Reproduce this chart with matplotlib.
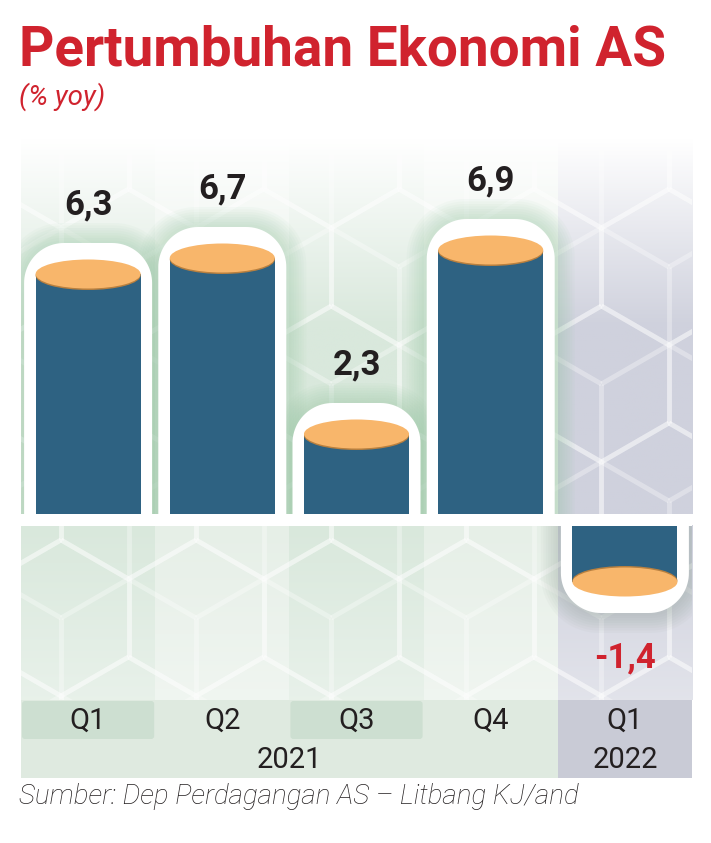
import numpy as np
import matplotlib
matplotlib.use('Agg')
import matplotlib.pyplot as plt
from matplotlib.patches import Rectangle, Ellipse, Polygon, FancyBboxPatch
from matplotlib.collections import LineCollection
from matplotlib.colors import to_rgb

# ---------------- data ----------------
quarters = ['Q1', 'Q2', 'Q3', 'Q4', 'Q1']
years = ['2021', '2022']
year_span = [4, 1]
values = [6.3, 6.7, 2.3, 6.9, -1.4]
value_labels = ['6,3', '6,7', '2,3', '6,9', '-1,4']
title = 'Pertumbuhan Ekonomi AS'
subtitle = '(% yoy)'
source = 'Sumber: Dep Perdagangan AS \u2013 Litbang KJ/and'

# ---------------- styles ----------------
RED = '#d0232e'
BLUE = '#2e6282'
ORANGE = '#f8b66b'
ORANGE_DK = '#b9803f'
TXT = '#231f20'
COL_DARK = '#d9e8dc'
COL_LIGHT = '#e6efe7'
COL_GREY = '#cfd1dd'
CELL_DARK = '#cddfd1'
CELL_LIGHT = '#dfeae0'
CELL_GREY = '#c9cbd6'

W, H = 711, 843
fig = plt.figure(figsize=(W / 100, H / 100), dpi=100)
fig.patch.set_facecolor('white')

bg = fig.add_axes([0, 0, 1, 1])
bg.set_xlim(0, W)
bg.set_ylim(H, 0)
bg.axis('off')

L, R = 21, 692
colw = (R - L) / 5
edges = [L + i * colw for i in range(6)]
UP_TOP, UP_BOT = 138, 514
LO_TOP, LO_BOT = 525, 700


def col_color(i):
    if i == 4:
        return COL_GREY
    return COL_DARK if i % 2 == 0 else COL_LIGHT


def grad(color, a0, a1, n=200, mid=None):
    c = np.array(to_rgb(color))
    t = np.linspace(0, 1, n)
    if mid is not None:
        a = np.clip(a0 + (a1 - a0) * t / mid, min(a0, a1), max(a0, a1))
    else:
        a = a0 + (a1 - a0) * t
    rgb = (1 - a)[:, None] * 1.0 + a[:, None] * c[None, :]
    return rgb[:, None, :]


for i in range(5):
    bg.imshow(grad(col_color(i), 0.0, 1.0, mid=0.5), extent=(edges[i], edges[i + 1], UP_BOT, UP_TOP),
              aspect='auto', interpolation='bilinear', zorder=0)
    bg.imshow(grad(col_color(i), 1.0, 0.6), extent=(edges[i], edges[i + 1], LO_BOT, LO_TOP),
              aspect='auto', interpolation='bilinear', zorder=0)

# hexagonal cube pattern (decorative)
Rh = 78
segs = []
dx = np.sqrt(3) * Rh
dy = 1.5 * Rh
for row in range(-1, 10):
    cy = 150 + row * dy
    off = (dx / 2) if row % 2 else 0
    for col in range(-1, 7):
        cx = L + 40 + col * dx + off
        pts = []
        for k in range(6):
            a = np.deg2rad(90 + 60 * k)
            pts.append((cx + Rh * np.cos(a), cy - Rh * np.sin(a)))
        for k in range(6):
            segs.append([pts[k], pts[(k + 1) % 6]])
        for ang in (150, 30, -90):
            a = np.deg2rad(ang)
            segs.append([(cx, cy), (cx + Rh * np.cos(a), cy - Rh * np.sin(a))])
for (t, b) in ((UP_TOP, UP_BOT), (LO_TOP, LO_BOT)):
    lc = LineCollection(segs, colors='white', linewidths=3.5, alpha=0.32, zorder=1)
    bg.add_collection(lc)
    clip = Rectangle((L, t), R - L, b - t, transform=bg.transData, visible=False)
    bg.add_patch(clip)
    lc.set_clip_path(clip)

# label cells
bg.add_patch(Rectangle((edges[0], 700), edges[4] - edges[0], 78, color=CELL_LIGHT, zorder=2, lw=0))
bg.add_patch(Rectangle((edges[4], 700), edges[5] - edges[4], 78, color=CELL_GREY, zorder=2, lw=0))
for i in (0, 2):
    bg.add_patch(FancyBboxPatch((edges[i] + 1, 701), colw - 2, 38, boxstyle='round,pad=0,rounding_size=3',
                                color=CELL_DARK, zorder=3, lw=0))

for i, q in enumerate(quarters):
    bg.text((edges[i] + edges[i + 1]) / 2, 721, q, ha='center', va='center', fontsize=21,
            family='Roboto', weight='normal', color=TXT, zorder=5)
start = 0
for y, n in zip(years, year_span):
    bg.text((edges[start] + edges[start + n]) / 2, 760, y, ha='center', va='center', fontsize=21,
            family='Roboto', weight='normal', color=TXT, zorder=5)
    start += n

# titles
fig.text(19 / W, 1 - 66 / H, title, ha='left', va='baseline', fontsize=39.5, family='Roboto',
         weight='bold', color=RED)
fig.text(19 / W, 1 - 105 / H, subtitle, ha='left', va='baseline', fontsize=20, family='Roboto',
         weight='normal', style='italic', color=RED)
fig.text(19 / W, 1 - 804 / H, source, ha='left', va='baseline', fontsize=20, family='Roboto',
         weight='light', style='italic', color=TXT)

# ---------------- bars ----------------
zero_px, kpx = 526, 40.0
top_px, bot_px = 138, 700
ax = fig.add_axes([L / W, (H - bot_px) / H, (R - L) / W, (bot_px - top_px) / H])
ax.set_xlim(-0.5, 4.5)
ax.set_ylim(-(bot_px - zero_px) / kpx, (zero_px - top_px) / kpx)
ax.axis('off')
ax.patch.set_alpha(0)
ux, uy = colw, kpx

bw_px = 105
bw = bw_px / ux
ell_h = 29 / uy


def frame(xc, v, half_w_px, ext_px, r_px, **kw):
    s = 1 if v >= 0 else -1
    hw = half_w_px / ux
    rx, ry = r_px / ux, r_px / uy
    ytip = v + s * ext_px / uy
    verts = [(xc - hw, 0)]
    for a in np.linspace(np.pi, np.pi / 2, 24):
        verts.append((xc - hw + rx + rx * np.cos(a), ytip - s * ry + s * ry * np.sin(a)))
    for a in np.linspace(np.pi / 2, 0, 24):
        verts.append((xc + hw - rx + rx * np.cos(a), ytip - s * ry + s * ry * np.sin(a)))
    verts.append((xc + hw, 0))
    return Polygon(verts, closed=True, **kw)


xs = np.arange(len(values))
for x, v in zip(xs, values):
    gcol = '#8fc39c' if v >= 0 else '#8e9f95'
    for k in range(8, 0, -1):
        ax.add_patch(frame(x, v, 64 + 2.5 * k, 31 + 2.5 * k, 38 + 2.5 * k, color=gcol, alpha=0.05,
                           lw=0, zorder=1))
    ax.add_patch(frame(x, v, 64, 31, 40, color='white', lw=0, zorder=2))

ax.bar(xs, values, width=bw, color=BLUE, zorder=3)

for x, v in zip(xs, values):
    if v >= 0:
        ax.add_patch(Ellipse((x, v - 1.5 / uy), bw, ell_h, color=ORANGE_DK, lw=0, zorder=4))
    else:
        ax.add_patch(Ellipse((x, v + 1.5 / uy), bw, ell_h, color=ORANGE_DK, lw=0, zorder=4))
    ax.add_patch(Ellipse((x, v), bw, ell_h, color=ORANGE, lw=0, zorder=5))

# white gap between panels
ax.add_patch(Rectangle((-0.5, 0), 5, (zero_px - UP_BOT) / uy, color='white', lw=0, zorder=3.5))

for x, v, lab in zip(xs, values, value_labels):
    s = 1 if v >= 0 else -1
    off = 50 if v >= 0 else 55
    ax.annotate(lab, (x, v), xytext=(0, s * off), textcoords='offset points', ha='center',
                va='center', fontsize=25, family='Roboto', weight='bold',
                color=TXT if v >= 0 else RED, zorder=6)

fig.savefig('out.png', dpi=100, facecolor='white')
